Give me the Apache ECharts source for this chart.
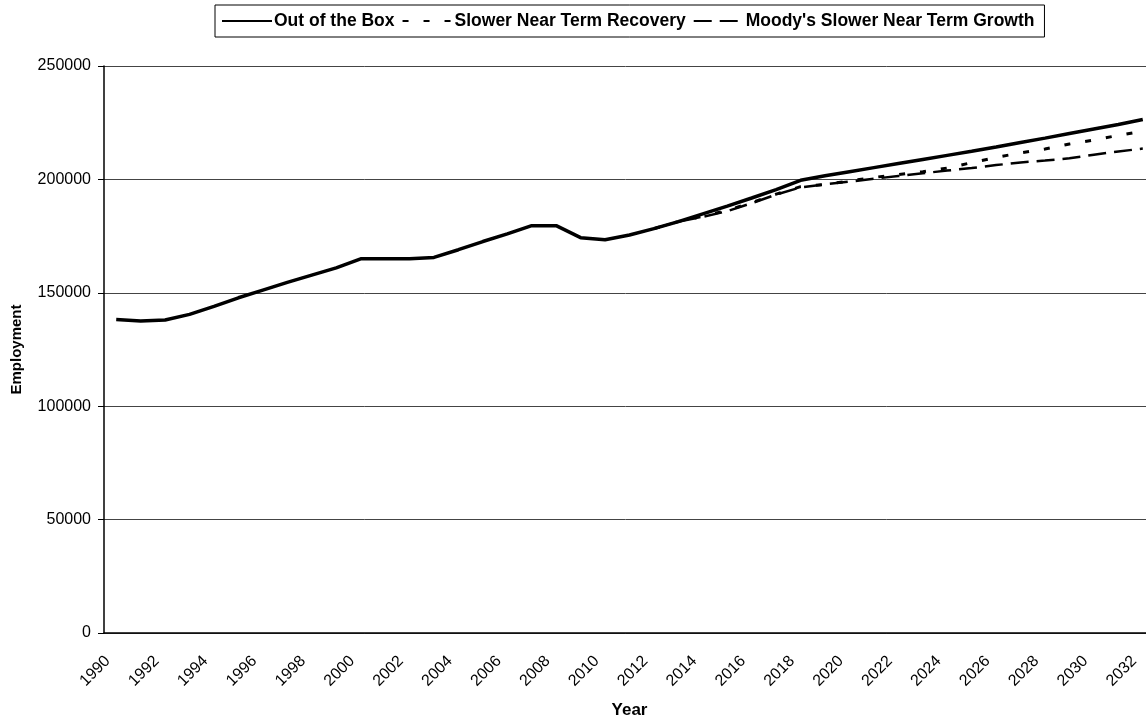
<!DOCTYPE html>
<html>
<head>
<meta charset="utf-8">
<title>Employment</title>
<script src="https://cdn.jsdelivr.net/npm/echarts@6/dist/echarts.min.js"></script>
<style>
  html, body { margin: 0; padding: 0; background: #fff; }
  #chart { width: 1146px; height: 721px; }
</style>
</head>
<body>
<div id="chart"></div>
<script>
// 年份
const years = [];
for (let y = 1990; y <= 2032; y++) years.push(String(y));

// Out of the Box (实线)
const outOfTheBox = [
  138200, 137600, 138000, 140500, 144000, 147800, 151200, 154600, 157800, 161000,
  165000, 165000, 165000, 165600, 169000, 172600, 176000, 179600, 179600, 174300,
  173400, 175500, 178300, 181400, 184800, 188200, 191800, 195500, 199600, 201600,
  203400, 205200, 207000, 208800, 210600, 212400, 214300, 216300, 218200, 220200,
  222200, 224200, 226400
];

// Slower Near Term Recovery (点线), 2012年以前与实线重合
const slowerRecovery = [
  null, null, null, null, null, null, null, null, null, null,
  null, null, null, null, null, null, null, null, null, null,
  null, null,
  178300, 181400, 183800, 186300, 189800, 193500, 196800, 197800,
  199300, 200900, 202100, 203400, 205000, 207400, 209700, 211700, 213400, 215600,
  217400, 219400, 221300
];

// Moody's Slower Near Term Growth (长虚线)
const moodysGrowth = [
  null, null, null, null, null, null, null, null, null, null,
  null, null, null, null, null, null, null, null, null, null,
  null, null,
  178300, 181400, 183500, 186000, 189500, 193300, 196500, 197800,
  199000, 200300, 201500, 202700, 203900, 205000, 206300, 207500, 208300, 209300,
  210900, 212300, 213600
];

const font = 'Liberation Sans, Arial, sans-serif';

let mychart = echarts.init(document.getElementById('chart'));
mychart.setOption({
  animation: false,
  backgroundColor: '#fff',
  textStyle: { fontFamily: font, color: '#000' },
  legend: {
    left: 215,
    top: 5,
    padding: [7, 10, 7, 6],
    borderColor: '#000',
    borderWidth: 1,
    itemWidth: 50,
    itemHeight: 14,
    itemGap: 7,
    itemStyle: { opacity: 0 },
    textStyle: { fontFamily: font, fontSize: 17.5, fontWeight: 'bold', color: '#000', padding: [0, 0, 0, -3] },
    data: ['Out of the Box', 'Slower Near Term Recovery', "Moody's Slower Near Term Growth"]
  },
  grid: { left: 104, top: 66, width: 1051, bottom: 88, outerBoundsMode: 'none' },
  xAxis: {
    type: 'category',
    data: years,
    boundaryGap: true,
    name: 'Year',
    nameLocation: 'middle',
    nameGap: 69,
    nameTextStyle: { fontFamily: font, fontSize: 17, fontWeight: 'bold', color: '#000' },
    axisLine: { lineStyle: { color: '#000', width: 1.5 } },
    axisTick: { interval: 0, length: 5, lineStyle: { color: '#000' } },
    axisLabel: { interval: 1, rotate: 45, fontSize: 16, color: '#000', margin: 17, padding: [0, 12, 0, 0] }
  },
  yAxis: {
    type: 'value',
    min: 0,
    max: 250000,
    interval: 50000,
    name: 'Employment',
    nameLocation: 'middle',
    nameGap: 80,
    nameTextStyle: { fontFamily: font, fontSize: 15, fontWeight: 'bold', color: '#000' },
    axisLine: { show: true, lineStyle: { color: '#000', width: 1.5 } },
    axisTick: { show: true, length: 6, lineStyle: { color: '#000' } },
    axisLabel: { fontSize: 16, color: '#000', margin: 13, formatter: (v) => String(v) },
    splitLine: { lineStyle: { color: '#444', width: 1 } }
  },
  series: [
    {
      name: 'Out of the Box',
      type: 'line',
      data: outOfTheBox,
      symbol: 'none',
      z: 3,
      lineStyle: { color: '#000', width: 3.5 },
      itemStyle: { color: '#000' }
    },
    {
      name: 'Slower Near Term Recovery',
      type: 'line',
      data: slowerRecovery,
      symbol: 'none',
      lineStyle: { color: '#000', width: 3, type: [6, 15] },
      itemStyle: { color: '#000' }
    },
    {
      name: "Moody's Slower Near Term Growth",
      type: 'line',
      data: moodysGrowth,
      symbol: 'none',
      lineStyle: { color: '#000', width: 2.5, type: [18, 8] },
      itemStyle: { color: '#000' }
    }
  ]
});
</script>
</body>
</html>
